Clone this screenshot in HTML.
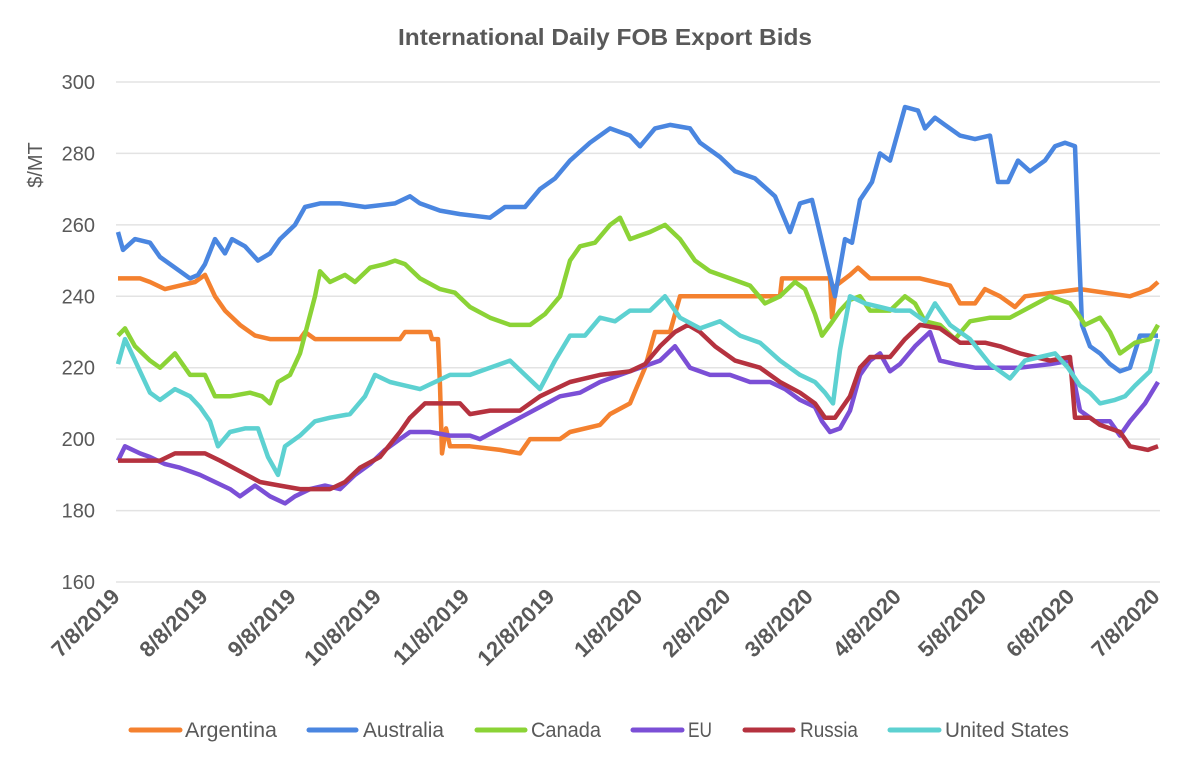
<!DOCTYPE html>
<html><head><meta charset="utf-8"><style>
body{margin:0;background:#fff}
svg text{font-family:"Liberation Sans",sans-serif;fill:#595959}
</style></head><body>
<svg id="s" width="1200" height="760" xmlns="http://www.w3.org/2000/svg">
<text x="398" y="45" font-size="23" font-weight="bold" textLength="414" lengthAdjust="spacingAndGlyphs">International Daily FOB Export Bids</text>
<text transform="translate(42,165) rotate(-90)" text-anchor="middle" font-size="20">$/MT</text>
<g id="grid"></g><g id="series"></g>
<g font-size="21">
<line x1="131" y1="730" x2="180" y2="730" stroke="#F4812F" stroke-width="5" stroke-linecap="round"/><text x="185" y="737" textLength="92" lengthAdjust="spacingAndGlyphs">Argentina</text>
<line x1="309" y1="730" x2="356" y2="730" stroke="#4A86E0" stroke-width="5" stroke-linecap="round"/><text x="363" y="737" textLength="81" lengthAdjust="spacingAndGlyphs">Australia</text>
<line x1="477" y1="730" x2="525" y2="730" stroke="#8BD336" stroke-width="5" stroke-linecap="round"/><text x="531" y="737" textLength="70" lengthAdjust="spacingAndGlyphs">Canada</text>
<line x1="633" y1="730" x2="682" y2="730" stroke="#7B4FD6" stroke-width="5" stroke-linecap="round"/><text x="688" y="737" textLength="24" lengthAdjust="spacingAndGlyphs">EU</text>
<line x1="745" y1="730" x2="793" y2="730" stroke="#B5323F" stroke-width="5" stroke-linecap="round"/><text x="800" y="737" textLength="58" lengthAdjust="spacingAndGlyphs">Russia</text>
<line x1="890" y1="730" x2="939" y2="730" stroke="#5DD1D1" stroke-width="5" stroke-linecap="round"/><text x="945" y="737" textLength="124" lengthAdjust="spacingAndGlyphs">United States</text>
</g>
</svg>
<script>
const NS="http://www.w3.org/2000/svg";
const Y=v=>582-(v-160)*500/140;
const g=document.getElementById('grid');
for(let v=160;v<=300;v+=20){
 let l=document.createElementNS(NS,'line');l.setAttribute('x1',116);l.setAttribute('x2',1160);l.setAttribute('y1',Y(v));l.setAttribute('y2',Y(v));l.setAttribute('stroke','#e3e3e3');l.setAttribute('stroke-width',1.5);g.appendChild(l);
 let t=document.createElementNS(NS,'text');t.setAttribute('x',95);t.setAttribute('y',Y(v)+7);t.setAttribute('text-anchor','end');t.setAttribute('font-size',20);t.textContent=v;g.appendChild(t);
}
const labs=["7/8/2019","8/8/2019","9/8/2019","10/8/2019","11/8/2019","12/8/2019","1/8/2020","2/8/2020","3/8/2020","4/8/2020","5/8/2020","6/8/2020","7/8/2020"];
const days=[0,31,62,92,123,153,184,215,244,275,305,336,366];
labs.forEach((s,i)=>{let x=118+days[i]*1040/366;let t=document.createElementNS(NS,'text');
t.setAttribute('transform',`translate(${x+3},${598}) rotate(-45)`);t.setAttribute('text-anchor','end');t.setAttribute('font-size',22);t.setAttribute('font-weight','bold');t.textContent=s;g.appendChild(t);});
const D={
"#F4812F":[118,245,140,245,150,244,165,242,180,243,195,244,205,246,215,240,225,236,240,232,255,229,270,228,300,228,305,230,315,228,360,228,400,228,405,230,430,230,432,228,438,228,440,215,442,196,446,203,450,198,470,198,500,197,520,196,530,200,560,200,570,202,600,204,610,207,630,210,645,220,650,225,655,230,670,230,680,240,780,240,782,245,830,245,832,234,836,243,850,246,858,248,870,245,920,245,950,243,960,238,975,238,985,242,1000,240,1015,237,1025,240,1080,242,1130,240,1150,242,1158,244],
"#4A86E0":[118,258,123,253,135,256,150,255,160,251,175,248,190,245,198,246,205,249,215,256,225,252,232,256,245,254,258,250,270,252,280,256,295,260,305,265,320,266,340,266,365,265,395,266,410,268,420,266,440,264,460,263,490,262,505,265,525,265,540,270,555,273,570,278,590,283,610,287,630,285,640,282,655,287,670,288,690,287,700,283,720,279,735,275,755,273,775,268,790,258,800,266,812,267,818,260,828,248,835,240,845,256,852,255,860,267,872,272,880,280,890,278,905,293,918,292,925,287,935,290,945,288,960,285,975,284,990,285,998,272,1008,272,1018,278,1030,275,1045,278,1055,282,1065,283,1075,282,1078,260,1082,232,1090,226,1100,224,1110,221,1120,219,1130,220,1140,229,1158,229],
"#8BD336":[118,229,125,231,135,226,150,222,160,220,175,224,190,218,205,218,215,212,230,212,250,213,262,212,270,210,278,216,290,218,300,224,315,240,320,247,330,244,345,246,355,244,370,248,385,249,395,250,405,249,420,245,440,242,455,241,470,237,490,234,510,232,530,232,545,235,560,240,570,250,580,254,595,255,610,260,620,262,630,256,650,258,665,260,680,256,695,250,710,247,730,245,750,243,765,238,780,240,795,244,805,242,815,235,822,229,830,232,840,236,850,239,860,240,870,236,890,236,905,240,915,238,925,233,940,232,955,228,970,233,990,234,1010,234,1030,237,1050,240,1070,238,1078,235,1085,232,1100,234,1110,230,1120,224,1135,227,1150,228,1158,232],
"#7B4FD6":[118,194,125,198,140,196,150,195,165,193,180,192,200,190,215,188,230,186,240,184,255,187,270,184,285,182,295,184,310,186,325,187,340,186,355,190,370,193,385,197,400,200,410,202,430,202,450,201,470,201,480,200,500,203,520,206,540,209,560,212,580,213,600,216,620,218,640,220,660,222,675,226,690,220,710,218,730,218,750,216,770,216,785,214,800,211,815,209,822,205,830,202,840,203,850,208,860,218,870,222,880,224,890,219,900,221,915,226,930,230,940,222,955,221,975,220,1000,220,1020,220,1050,221,1070,222,1080,208,1095,205,1110,205,1120,201,1130,205,1145,210,1158,216],
"#B5323F":[118,194,160,194,175,196,205,196,220,194,240,191,260,188,280,187,300,186,330,186,345,188,360,192,380,195,400,202,410,206,425,210,460,210,470,207,490,208,520,208,540,212,555,214,570,216,600,218,630,219,645,221,660,226,675,230,688,232,700,230,715,226,735,222,760,220,780,216,800,213,815,210,825,206,835,206,840,208,850,212,860,220,870,223,890,223,905,228,920,232,940,231,960,227,985,227,1000,226,1020,224,1050,222,1070,223,1075,206,1090,206,1100,204,1120,202,1130,198,1148,197,1158,198],
"#5DD1D1":[118,221,125,228,135,222,150,213,160,211,175,214,190,212,200,209,210,205,218,198,230,202,245,203,258,203,268,195,278,190,285,198,300,201,315,205,330,206,350,207,365,212,375,218,390,216,405,215,420,214,435,216,450,218,470,218,490,220,510,222,525,218,540,214,555,222,570,229,585,229,600,234,615,233,630,236,650,236,665,240,680,234,700,231,720,233,740,229,760,227,780,222,800,218,815,216,825,213,833,210,840,225,850,240,865,238,880,237,895,236,910,236,925,233,935,238,950,232,970,228,990,221,1010,217,1025,222,1040,223,1055,224,1068,220,1080,215,1090,213,1100,210,1115,211,1125,212,1135,215,1150,219,1158,228]};
const order=["#F4812F","#4A86E0","#8BD336","#7B4FD6","#B5323F","#5DD1D1"];
const sg=document.getElementById('series');
order.forEach(c=>{const a=D[c];let pts=[];for(let i=0;i<a.length;i+=2)pts.push(a[i]+','+Y(a[i+1]).toFixed(1));
let p=document.createElementNS(NS,'polyline');p.setAttribute('points',pts.join(' '));p.setAttribute('fill','none');p.setAttribute('stroke',c);p.setAttribute('stroke-width',4.5);p.setAttribute('stroke-linejoin','round');sg.appendChild(p);});
</script>
</body></html>
